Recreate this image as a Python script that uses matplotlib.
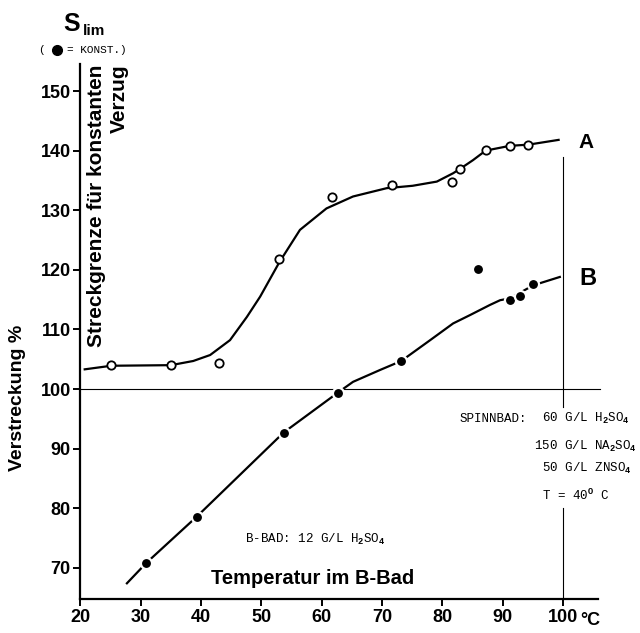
import matplotlib
matplotlib.use("Agg")
import matplotlib.pyplot as plt

plt.rcParams['font.family'] = ['Liberation Sans', 'DejaVu Sans']
plt.rcParams['font.weight'] = 'bold'
plt.rcParams['mathtext.fontset'] = 'custom'
plt.rcParams['mathtext.rm'] = 'Liberation Mono'
plt.rcParams['mathtext.it'] = 'Liberation Mono'

MONO = ['Liberation Mono', 'DejaVu Sans Mono']

# Kurve A: Streckgrenze (offene Kreise), Messpunkte
a_temp = [25.1, 35.0, 43.0, 53.0, 61.7, 71.6, 81.6, 82.9, 87.2, 91.2, 94.3]
a_val = [104.0, 104.0, 104.4, 121.8, 132.2, 134.2, 134.8, 136.9, 140.1, 140.8, 140.9]

# Kurve A: ausgeglichener Verlauf
a_fit_temp = [20.7, 25.1, 35.0, 38.7, 41.5, 44.8, 47.6, 49.8, 53.0, 56.4, 60.8,
              65.2, 70.8, 75.1, 79.1, 81.8, 82.9, 85.1, 87.2, 91.2, 94.3, 99.3]
a_fit_val = [103.3, 103.9, 104.0, 104.7, 105.7, 108.2, 112.1, 115.5, 121.3, 126.7, 130.3,
             132.3, 133.7, 134.1, 134.8, 136.2, 136.9, 138.4, 140.0, 140.8, 141.0, 141.8]

# Kurve B: Verstreckung (volle Punkte), Messpunkte
b_temp = [30.9, 39.3, 53.7, 62.7, 73.2, 85.9, 91.2, 92.9, 95.1]
b_val = [70.8, 78.6, 92.7, 99.4, 104.7, 120.1, 115.0, 115.6, 117.7]

# Kurve B: ausgeglichener Verlauf
b_fit_temp = [27.7, 30.9, 39.3, 53.7, 62.7, 65.2, 69.7, 73.2, 78.0, 81.8,
              84.6, 87.9, 89.6, 91.2, 95.1, 99.5]
b_fit_val = [67.4, 70.8, 78.6, 92.7, 99.4, 101.2, 103.2, 104.7, 108.2, 111.0,
             112.4, 114.1, 114.9, 115.2, 117.4, 118.8]

x_ticks = [20, 30, 40, 50, 60, 70, 80, 90, 100]
y_ticks = [70, 80, 90, 100, 110, 120, 130, 140, 150]

fig = plt.figure(figsize=(6.4, 6.33), dpi=100)
ax = fig.add_axes([0, 0, 1, 1])
ax.set_xlim(6.65, 112.8)
ax.set_ylim(59.06, 165.27)
ax.patch.set_alpha(0)

for s in ['top', 'right']:
    ax.spines[s].set_visible(False)
ax.spines['left'].set_position(('data', 20))
ax.spines['left'].set_bounds(64.8, 154.5)
ax.spines['bottom'].set_position(('data', 64.8))
ax.spines['bottom'].set_bounds(20, 105.8)
for s in ['left', 'bottom']:
    ax.spines[s].set_linewidth(1.6)

ax.set_xticks(x_ticks)
ax.set_yticks(y_ticks)
ax.tick_params(direction='out', length=5, width=1.4, labelsize=13, pad=2)
ax.text(102.9, 64.8 - 2.2, '°C', fontsize=13, ha='left', va='top')

# Hilfslinien bei 100 % und 100 °C
ax.plot([20, 106.2], [100, 100], color='black', lw=0.8)
ax.plot([100, 100], [64.8, 80.0], color='black', lw=0.8)
ax.plot([100, 100], [97.0, 139.0], color='black', lw=0.8)

ax.plot(a_fit_temp, a_fit_val, color='black', lw=1.6, zorder=2)
ax.plot(a_temp, a_val, 'o', ms=6, mfc='white', mec='black', mew=1.3, zorder=3)

ax.plot(b_fit_temp, b_fit_val, color='black', lw=1.6, zorder=2)
ax.plot(b_temp, b_val, 'o', ms=8, mfc='black', mec='white', mew=1.6, zorder=3)

ax.text(103.8, 141.4, 'A', fontsize=15, ha='center', va='center')
ax.text(104.2, 118.6, 'B', fontsize=17, ha='center', va='center')

# Achsenbeschriftungen
ax.text(18.6, 161.2, 'S', fontsize=18, ha='center', va='center')
ax.text(20.4, 160.0, 'lim', fontsize=11, ha='left', va='center')
ax.text(12.9, 156.9, '(', fontsize=8, family=MONO, ha='left', va='center',
        fontweight='normal')
ax.plot([16.1], [156.9], 'o', ms=7, color='black', clip_on=False)
ax.text(17.7, 156.9, '= KONST.)', fontsize=8, family=MONO, ha='left',
        va='center', fontweight='normal')
ax.text(22.6, 154.4, 'Streckgrenze für konstanten', fontsize=15, rotation=90,
        ha='center', va='top')
ax.text(26.5, 154.4, 'Verzug', fontsize=15, rotation=90, ha='center', va='top')
ax.text(9.6, 98.5, 'Verstreckung %', fontsize=14, rotation=90,
        ha='center', va='center')
ax.text(41.6, 68.2, 'Temperatur im B-Bad', fontsize=14.5, ha='left', va='center')

# Badzusammensetzung
mono = dict(family=MONO, fontsize=9, fontweight='normal', va='center', ha='left')
ax.text(82.8, 95.0, 'SPINNBAD:', **mono)
ax.text(96.5, 95.0, '60 G/L H$_2$SO$_4$', **mono)
ax.text(95.3, 90.4, '150 G/L NA$_2$SO$_4$', **mono)
ax.text(96.5, 86.6, '50 G/L ZNSO$_4$', **mono)
ax.text(96.5, 82.2, 'T = 40$^{O}$ C', **mono)
ax.text(47.3, 74.8, 'B-BAD: 12 G/L H$_2$SO$_4$', **mono)

fig.savefig('out.png', dpi=100)
